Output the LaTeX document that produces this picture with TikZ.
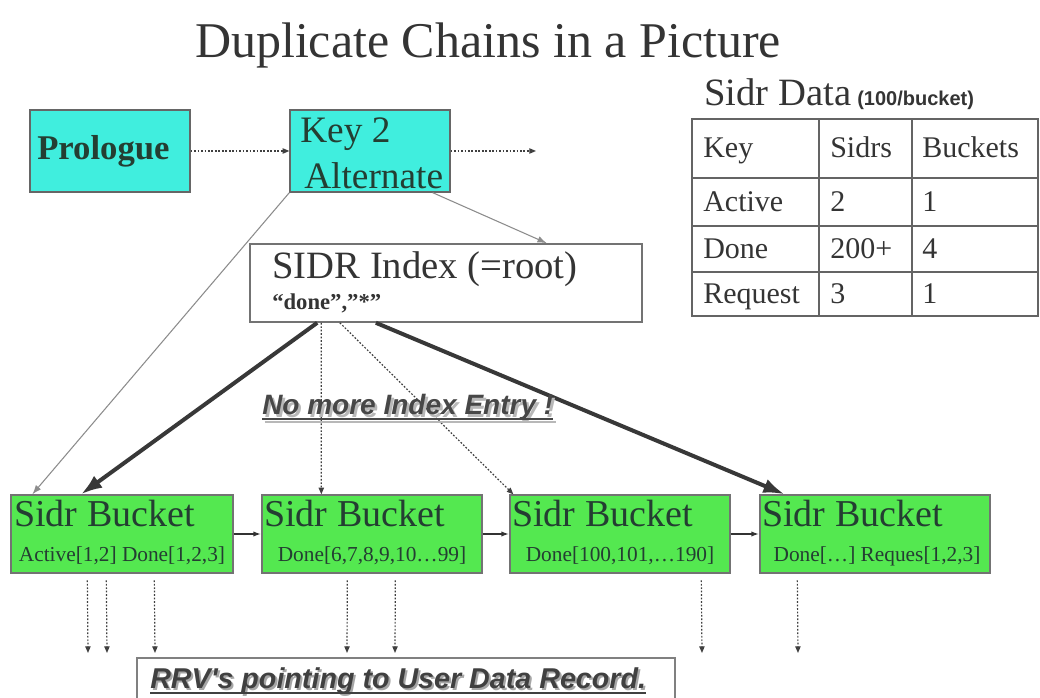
\documentclass[tikz,border=0pt]{standalone}
\usepackage{fontspec}
\setmainfont{Liberation Serif}
\newfontfamily\sansface{Liberation Sans}
\usetikzlibrary{fit,arrows.meta}

\definecolor{cyanfill}{RGB}{64,238,222}
\definecolor{greenfill}{RGB}{84,232,80}
\definecolor{boxtext}{RGB}{36,62,50}
\definecolor{inktext}{RGB}{52,52,52}
\definecolor{gridline}{RGB}{100,100,100}

\newcommand\fsz[1]{\fontsize{#1}{#1}\selectfont}

\tikzset{
  keybox/.style={draw=black!60, line width=1pt, fill=cyanfill, inner sep=0pt},
  bucketbox/.style={draw=black!55, line width=1pt, fill=greenfill, inner sep=0pt},
  plainbox/.style={draw=black!55, line width=1.2pt, fill=white, inner sep=0pt},
  txt/.style={inner sep=0pt, text=boxtext},
  tabtxt/.style={inner sep=0pt, anchor=base west, text=inktext, font=\fsz{22.5}},
  subtxt/.style={inner sep=0pt, anchor=base, text=boxtext},
  headtxt/.style={inner sep=0pt, anchor=base west, text=boxtext},
  dotarrow/.style={draw=black!75, line width=0.9pt, dash pattern=on 1.3pt off 1.3pt,
    -{Triangle[length=5pt,width=4pt]}},
  thinarrow/.style={draw=black!45, line width=0.8pt, -{Latex[length=7pt,width=5pt]}},
  thickarrow/.style={draw=black!78, line width=3pt, -{Latex[length=16pt,width=11pt]}},
  chainarrow/.style={draw=black!80, line width=1.2pt, -{Latex[length=6pt,width=4pt]}},
  notefont/.style={inner sep=0pt, anchor=base west},
}

\begin{document}
\begin{tikzpicture}[x=0.75pt,y=-0.75pt]
\useasboundingbox (0,0) rectangle (1040,698);

% title
\node[inner sep=0pt, text=inktext] (title) at (488,45) {\fsz{37.5}Duplicate Chains in a Picture};

% key chain boxes
\node[keybox, fit={(30,110)(190,192)}] (pro) {};
\node[txt, anchor=base west] (protxt) at (37,160) {\fsz{26}\bfseries Prologue};
\node[keybox, fit={(290,110)(450,192)}] (key) {};
\node[txt, anchor=base west] (keyA) at (300,143) {\fsz{28}Key 2};
\node[txt, anchor=base west] (keyB) at (304,189) {\fsz{28}Alternate};
\coordinate (keyout) at (536,151);
\draw[dotarrow] (pro.east) -- (key.west);
\draw[dotarrow] (key.east) -- (keyout);

% index root
\node[plainbox, fit={(250,244)(642,322)}] (idx) {};
\node[inner sep=0pt, anchor=base west, text=inktext] (idxA) at (272,279) {\fsz{29}SIDR Index (=root)};
\node[inner sep=0pt, anchor=base west, text=inktext] (idxB) at (272,310) {\fsz{17}\bfseries “done”,”*”};

% data table
\node[inner sep=0pt, anchor=base west, text=inktext] (tabtitle) at (704,106) {\fsz{29}Sidr Data};
\node[inner sep=0pt, anchor=base west, text=inktext] (tabnote) at (857,106) {\sansface\fsz{15}\bfseries (100/bucket)};
\node[draw=gridline, line width=1.6pt, inner sep=0pt, fit={(692,119)(1038,316)}] (tbl) {};
\draw[gridline, line width=1.3pt]
  (692,178) -- (1038,178)
  (692,226) -- (1038,226)
  (692,272) -- (1038,272)
  (819,119) -- (819,316)
  (912,119) -- (912,316);
\node[tabtxt] (h1) at (703,158) {Key};
\node[tabtxt] (h2) at (830,158) {Sidrs};
\node[tabtxt] (h3) at (922,158) {Buckets};
\node[tabtxt] (a1) at (703,212) {Active};
\node[tabtxt] (a2) at (830,212) {2};
\node[tabtxt] (a3) at (922,212) {1};
\node[tabtxt] (d1) at (703,259) {Done};
\node[tabtxt] (d2) at (830,259) {200+};
\node[tabtxt] (d3) at (922,259) {4};
\node[tabtxt] (q1) at (703,304) {Request};
\node[tabtxt] (q2) at (830,304) {3};
\node[tabtxt] (q3) at (922,304) {1};

% bucket chain
\node[bucketbox, fit={(11,495)(233,573)}] (b1) {};
\node[bucketbox, fit={(262,495)(482,573)}] (b2) {};
\node[bucketbox, fit={(510,495)(730,573)}] (b3) {};
\node[bucketbox, fit={(760,495)(990,573)}] (b4) {};
\node[headtxt] (b1h) at (14,527) {\fsz{28.5}Sidr Bucket};
\node[headtxt] (b2h) at (264,527) {\fsz{28.5}Sidr Bucket};
\node[headtxt] (b3h) at (512,527) {\fsz{28.5}Sidr Bucket};
\node[headtxt] (b4h) at (762,527) {\fsz{28.5}Sidr Bucket};
\node[subtxt] (b1s) at (122,562) {\fsz{16}Active[1,2] Done[1,2,3]};
\node[subtxt] (b2s) at (372,562) {\fsz{16}Done[6,7,8,9,10…99]};
\node[subtxt] (b3s) at (620,562) {\fsz{16}Done[100,101,…190]};
\node[subtxt] (b4s) at (877,562) {\fsz{16}Done[…] Reques[1,2,3]};
\draw[chainarrow] (b1.east) -- (b2.west);
\draw[chainarrow] (b2.east) -- (b3.west);
\draw[chainarrow] (b3.east) -- (b4.west);

% links into the chain
\draw[thinarrow] ([xshift=-13.5pt]key.south east) -- ([xshift=-72pt]idx.north east);
\draw[thinarrow] (key.south west) -- ([xshift=16.5pt]b1.north west);
\draw[thickarrow] ([xshift=51pt]idx.south west) -- ([xshift=53pt]b1.north west);
\draw[thickarrow] ([xshift=95pt]idx.south west) -- ([xshift=19pt]b4.north west);
\draw[dotarrow] ([xshift=54pt]idx.south west) -- ([xshift=45pt]b2.north west);
\draw[dotarrow] ([xshift=68pt]idx.south west) -- ([xshift=3pt]b3.north west);

% note, with its soft drop shadow
\node[notefont, text=black!28] (noteS) at (264.5,417.5) {\sansface\fsz{21}\bfseries\itshape No more Index Entry !};
\draw[black!28, line width=1.4pt] ([yshift=-3.5pt]noteS.base west) -- ([yshift=-3.5pt]noteS.base east);
\node[notefont, text=black!72] (note) at (262,415) {\sansface\fsz{21}\bfseries\itshape No more Index Entry !};
\draw[black!72, line width=1.2pt] ([yshift=-3pt]note.base west) -- ([yshift=-3pt]note.base east);

% record pointers
\node[plainbox, draw=black!50, fit={(137,658)(675,712)}] (rrv) {};
\node[notefont, text=black!35] (rrvS) at (152,691) {\sansface\fsz{21.5}\bfseries\itshape RRV's pointing to User Data Record.};
\node[notefont, text=black!75] (rrvtxt) at (150,689) {\sansface\fsz{21.5}\bfseries\itshape RRV's pointing to User Data Record.};
\draw[black!75, line width=1.3pt] ([yshift=-3pt]rrvtxt.base west) -- ([yshift=-3pt]rrvtxt.base east);

\coordinate (p1) at (88,653);
\coordinate (p2) at (107,653);
\coordinate (p3) at (155,653);
\coordinate (p4) at (347,653);
\coordinate (p5) at (395,653);
\coordinate (p6) at (702,653);
\coordinate (p7) at (798,653);
\draw[dotarrow] ([xshift=57.75pt,yshift=-5pt]b1.south west) -- (p1);
\draw[dotarrow] ([xshift=72pt,yshift=-5pt]b1.south west) -- (p2);
\draw[dotarrow] ([xshift=108pt,yshift=-5pt]b1.south west) -- (p3);
\draw[dotarrow] ([xshift=64.5pt,yshift=-5pt]b2.south west) -- (p4);
\draw[dotarrow] ([xshift=100.5pt,yshift=-5pt]b2.south west) -- (p5);
\draw[dotarrow] ([xshift=144pt,yshift=-5pt]b3.south west) -- (p6);
\draw[dotarrow] ([xshift=28.5pt,yshift=-5pt]b4.south west) -- (p7);
\end{tikzpicture}
\end{document}
